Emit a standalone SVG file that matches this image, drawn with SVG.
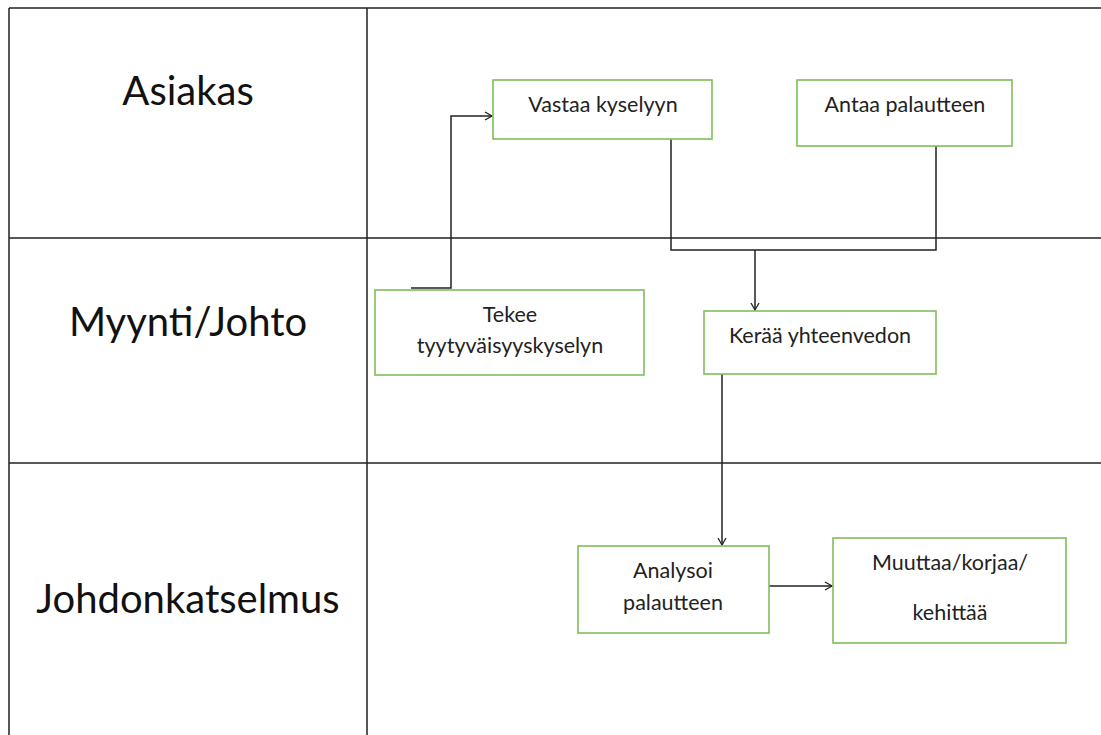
<svg xmlns="http://www.w3.org/2000/svg" width="1101" height="735" viewBox="0 0 1101 735">
<defs>
<marker id="arr" markerWidth="10" markerHeight="10" refX="8" refY="5" orient="auto" markerUnits="userSpaceOnUse">
<path d="M1,1 L8,5 L1,9" fill="none" stroke="#222" stroke-width="1.3"/>
</marker>
<style>
.grid{stroke:#222;stroke-width:1.5;fill:none}
.box{fill:#fff;stroke:#7dbf5a;stroke-width:1.6}
.lane{font-family:Lato,"Open Sans",sans-serif;font-size:40px;fill:#111;text-anchor:middle}
.t{font-family:Lato,"Open Sans",sans-serif;font-size:21.5px;fill:#222;text-anchor:middle}
.c{stroke:#222;stroke-width:1.5;fill:none}
</style>
</defs>
<rect width="1101" height="735" fill="#fff"/>
<g id="table">
<path class="grid" d="M9,8 H1101 M9,8 V735 M367,8 V735 M9,238 H1101 M9,463 H1101"/>
<text class="lane" x="188" y="105">Asiakas</text>
<text class="lane" x="188" y="336">Myynti/Johto</text>
<text class="lane" x="188" y="613">Johdonkatselmus</text>
</g>
<g id="connectors">
<path class="c" d="M411,288 H451 V116 H492" marker-end="url(#arr)"/>
<path class="c" d="M671,139 V250 H936 V146"/>
<path class="c" d="M755,250 V310" marker-end="url(#arr)"/>
<path class="c" d="M722,374 V545" marker-end="url(#arr)"/>
<path class="c" d="M767,586 H832" marker-end="url(#arr)"/>
</g>
<g id="vastaa">
<rect class="box" x="493" y="80" width="219" height="59"/>
<text class="t" x="603" y="112">Vastaa kyselyyn</text>
</g>
<g id="antaa">
<rect class="box" x="797" y="80" width="215" height="66"/>
<text class="t" x="905" y="112">Antaa palautteen</text>
</g>
<g id="tekee">
<rect class="box" x="375" y="290" width="269" height="85"/>
<text class="t" x="510" y="322">Tekee</text>
<text class="t" x="510" y="353">tyytyväisyyskyselyn</text>
</g>
<g id="keraa">
<rect class="box" x="704" y="311" width="232" height="63"/>
<text class="t" x="820" y="343">Kerää yhteenvedon</text>
</g>
<g id="analysoi">
<rect class="box" x="578" y="546" width="191" height="87"/>
<text class="t" x="673" y="578">Analysoi</text>
<text class="t" x="673" y="610">palautteen</text>
</g>
<g id="muuttaa">
<rect class="box" x="833" y="538" width="233" height="105"/>
<text class="t" x="950" y="570">Muuttaa/korjaa/</text>
<text class="t" x="950" y="620">kehittää</text>
</g>
</svg>
